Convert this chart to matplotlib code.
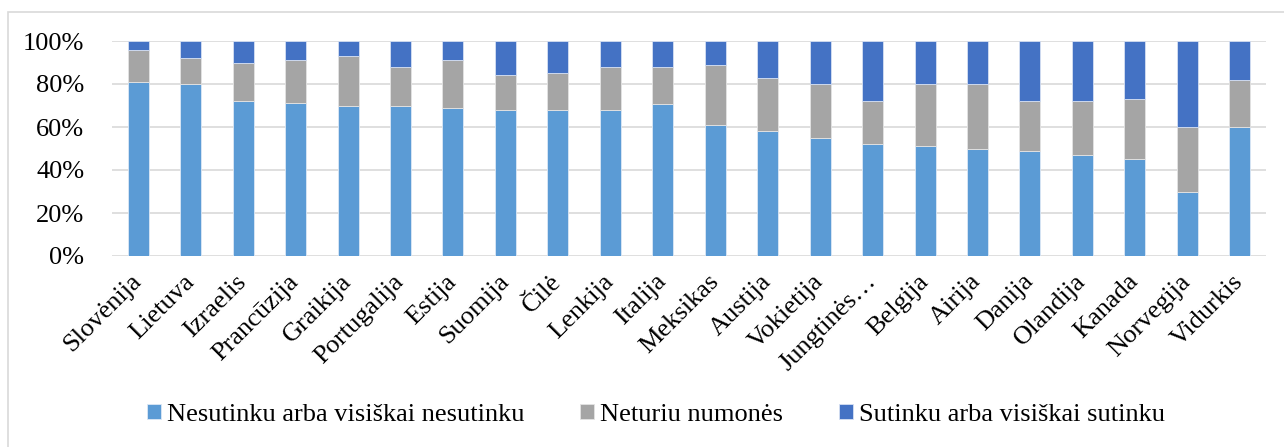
import numpy as np
import matplotlib.pyplot as plt
from matplotlib.patches import Rectangle
from matplotlib.ticker import PercentFormatter

# Datos
salys = ['Slovėnija', 'Lietuva', 'Izraelis', 'Prancūzija', 'Graikija', 'Portugalija',
         'Estija', 'Suomija', 'Čilė', 'Lenkija', 'Italija', 'Meksikas', 'Austija',
         'Vokietija', 'Jungtinės…', 'Belgija', 'Airija', 'Danija', 'Olandija',
         'Kanada', 'Norvegija', 'Vidurkis']
nesutinku = [81, 80, 72, 71, 70, 70, 69, 68, 68, 68, 70.5, 61, 58, 55, 52, 51, 50, 49, 47, 45, 30, 60]
neturiu = [15, 12, 18, 20, 23, 18, 22, 16, 17, 20, 17.5, 28, 25, 25, 20, 29, 30, 23, 25, 28, 30, 22]
sutinku = [4, 8, 10, 9, 7, 12, 9, 16, 15, 12, 12, 11, 17, 20, 28, 20, 20, 28, 28, 27, 40, 18]

plt.rcParams['font.family'] = ['Liberation Serif', 'DejaVu Serif']

fig = plt.figure(figsize=(12.84, 4.47), dpi=100)
ax = fig.add_axes([112 / 1284, 1 - 256 / 447, (1266 - 112) / 1284, (256 - 41) / 447])

x = np.arange(len(salys))
a = np.array(nesutinku)
b = np.array(neturiu)
c = np.array(sutinku)
w = 0.4
ax.bar(x, a, w, color='#5B9BD5', edgecolor='#DCE8F5', linewidth=0.6,
       label='Nesutinku arba visiškai nesutinku', zorder=3)
ax.bar(x, b, w, bottom=a, color='#A5A5A5', edgecolor='#E4E4E4', linewidth=0.6,
       label='Neturiu numonės', zorder=3)
ax.bar(x, c, w, bottom=a + b, color='#4472C4', edgecolor='#D6E0F2', linewidth=0.6,
       label='Sutinku arba visiškai sutinku', zorder=3)

# Ejes
ax.set_xlim(-0.5, len(salys) - 0.5)
ax.set_ylim(0, 100)
ax.set_yticks(np.arange(0, 101, 20))
ax.yaxis.set_major_formatter(PercentFormatter(decimals=0))
ax.grid(axis='y', color='#D9D9D9', linewidth=1.2, zorder=0)
for s in ax.spines.values():
    s.set_visible(False)
ax.tick_params(length=0)
ax.tick_params(axis='y', labelsize=19, pad=20)
ax.set_xticks(x)
ax.set_xticklabels(salys, rotation=45, ha='right', va='center', rotation_mode='anchor', fontsize=19)
ax.tick_params(axis='x', pad=16)

fig.legend(loc='center', bbox_to_anchor=(656 / 1284, 1 - 415 / 447), ncol=3, frameon=False,
           fontsize=19, handlelength=0.53, handleheight=0.53, handletextpad=0.23,
           columnspacing=2.1)

# Marco exterior
fig.patches.append(Rectangle((8 / 1284, -0.1), 1.2, 1.1 - 12 / 447,
                             transform=fig.transFigure, fill=False,
                             edgecolor='#D9D9D9', linewidth=1.2))

fig.savefig('out.png', dpi=100)
